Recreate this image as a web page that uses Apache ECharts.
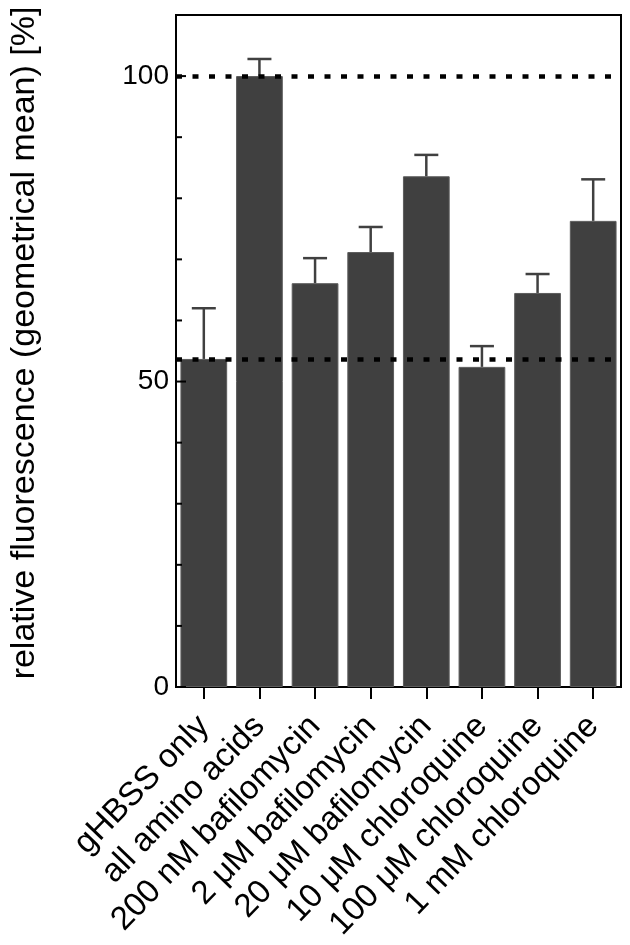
<!DOCTYPE html>
<html>
<head>
<meta charset="utf-8">
<script src="https://cdn.jsdelivr.net/npm/echarts@6/dist/echarts.min.js"></script>
<style>
html,body{margin:0;padding:0;background:#fff;}
#c{width:630px;height:945px;}
</style>
</head>
<body>
<div id="c"></div>
<script>
var categories = ['gHBSS only','all amino acids','200 nM bafilomycin','2 μM bafilomycin','20 μM bafilomycin','10 μM chloroquine','100 μM chloroquine','1 mM chloroquine'];
var means = [53.7, 100, 66.1, 71.2, 83.6, 52.4, 64.5, 76.3];
var errorTops = [62.0, 102.8, 70.2, 75.3, 87.1, 55.8, 67.6, 83.1];
var refLines = [100, 53.7];
var yTickLabels = [0, 50, 100];
var yMinorTicks = [0, 10, 20, 30, 40, 50, 60, 70, 80, 90, 100];

var FONT = 'Liberation Sans, Arial, sans-serif';
var chart = echarts.init(document.getElementById('c'));

var errData = categories.map(function(c, i){ return [i, means[i], errorTops[i]]; });

chart.setOption({
  animation: false,
  grid: {left: 174, right: 9, top: 15, bottom: 258, show: true, borderColor: '#000', borderWidth: 2, backgroundColor: 'transparent'},
  xAxis: {
    type: 'category',
    data: categories,
    axisLine: {lineStyle: {color: '#000', width: 2}},
    axisTick: {show: true, alignWithLabel: true, length: 12, lineStyle: {color: '#000', width: 2}},
    axisLabel: {rotate: 46, margin: 34, color: '#000', fontSize: 33, fontFamily: FONT, interval: 0}
  },
  yAxis: {
    type: 'value',
    min: 0, max: 110, interval: 10,
    name: 'relative fluorescence (geometrical mean) [%]',
    nameLocation: 'middle',
    nameGap: 134,
    nameTextStyle: {color: '#000', fontSize: 34, fontFamily: FONT, padding: [0, 0, 0, 16]},
    splitLine: {show: false},
    axisLine: {show: true, lineStyle: {color: '#000', width: 2}},
    axisTick: {show: false},
    axisLabel: {
      color: '#000', fontSize: 28, fontFamily: FONT, margin: 7,
      formatter: function(v){ return yTickLabels.indexOf(v) >= 0 ? String(v) : ''; }
    }
  },
  series: [
    {
      type: 'bar',
      data: means,
      barCategoryGap: '16%',
      itemStyle: {color: '#404040', borderColor: '#5c5c5c', borderWidth: 1},
      z: 2,
      markLine: {
        silent: true,
        symbol: ['none','none'],
        label: {show: false},
        lineStyle: {color: '#000', width: 4.5, type: [6, 10.5]},
        z: 5,
        data: refLines.map(function(v){ return {yAxis: v}; })
      }
    },
    {
      type: 'custom',
      data: errData,
      z: 3,
      renderItem: function(params, api){
        var x = api.value(0);
        var p0 = api.coord([x, api.value(1)]);
        var p1 = api.coord([x, api.value(2)]);
        var hw = 12;
        var st = {stroke: '#404040', lineWidth: 2.5};
        return {type: 'group', children: [
          {type: 'line', shape: {x1: p0[0], y1: p0[1], x2: p1[0], y2: p1[1]}, style: st},
          {type: 'line', shape: {x1: p1[0]-hw, y1: p1[1], x2: p1[0]+hw, y2: p1[1]}, style: st}
        ]};
      }
    },
    {
      type: 'custom',
      data: yMinorTicks,
      z: 4,
      renderItem: function(params, api){
        var v = api.value(0);
        var p = api.coord([0, v]);
        var ax = params.coordSys.x;
        var len = (yTickLabels.indexOf(v) >= 0) ? 10 : 6;
        return {type: 'line', shape: {x1: ax, y1: p[1], x2: ax+len, y2: p[1]}, style: {stroke: '#000', lineWidth: 2}};
      },
      encode: {y: 0}
    }
  ]
});
</script>
</body>
</html>
